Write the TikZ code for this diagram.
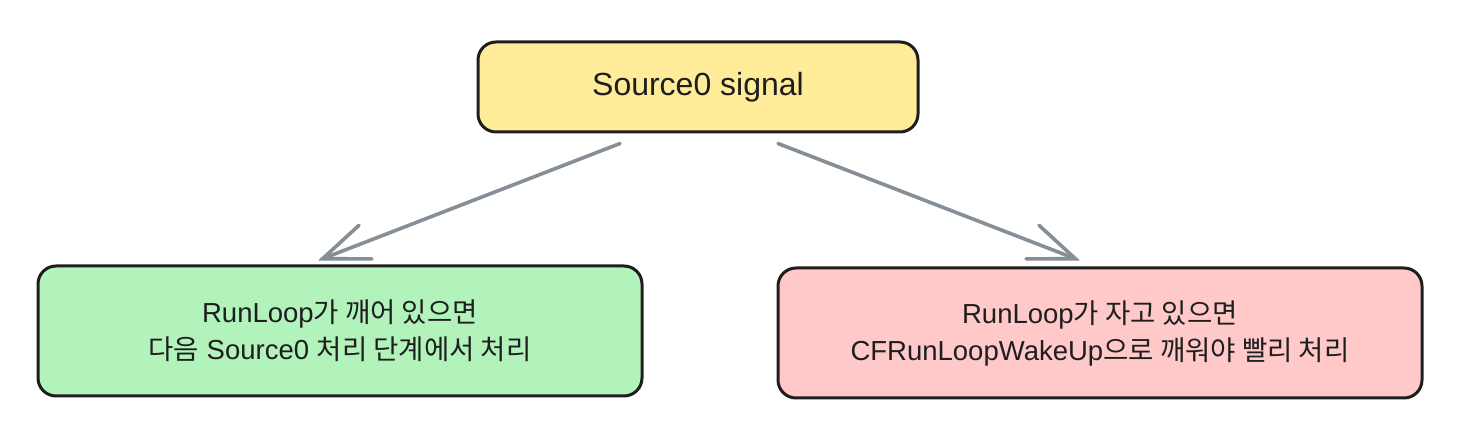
\documentclass[tikz,border=0pt]{standalone}
\usepackage{fontspec}
\setmainfont{Liberation Sans}
\newfontfamily\kofont{Noto Sans CJK KR}
\newcommand{\ko}[1]{{\kofont #1}}
\usepackage{tikz}
\usetikzlibrary{arrows.meta, positioning}

\begin{document}
\begin{tikzpicture}[x=1pt, y=1pt]
  \definecolor{ink}{HTML}{1E1E1E}
  \definecolor{sig}{HTML}{FFEC99}
  \definecolor{awake}{HTML}{B2F2BB}
  \definecolor{asleep}{HTML}{FFC9C9}
  \definecolor{wire}{HTML}{868E96}
  \tikzset{
    box/.style={draw=ink, line width=3pt, rounded corners=18pt, align=center,
      inner sep=0pt, text=ink},
    arr/.style={draw=wire, line width=3.6pt, line cap=round,
      -{Straight Barb[length=46pt, width=36pt, line cap=round]}}
  }
  \useasboundingbox (0,0) rectangle (1460,436);
  % --- sinal ---
  \node[box, fill=sig, minimum width=440pt, minimum height=90pt,
    font=\fontsize{32}{36}\selectfont] (src) at (698,349) {Source0 signal};
  % --- dois casos ---
  \node[box, fill=awake, minimum width=604pt, minimum height=130pt,
    font=\fontsize{27.5}{37}\selectfont] (wake) at (340,105)
    {RunLoop\ko{가 깨어 있으면}\\\ko{다음} Source0 \ko{처리 단계에서 처리}};
  \node[box, fill=asleep, minimum width=644pt, minimum height=130pt,
    font=\fontsize{27.5}{37}\selectfont] (sleep) at (1100,103)
    {RunLoop\ko{가 자고 있으면}\\CFRunLoopWakeUp\ko{으로 깨워야 빨리 처리}};
  % --- setas ---
  \draw[arr] ([xshift=-78pt, yshift=-10pt]src.south) -- ([xshift=-22pt, yshift=4pt]wake.north);
  \draw[arr] ([xshift=80pt, yshift=-10pt]src.south) -- ([xshift=-20pt, yshift=6pt]sleep.north);
\end{tikzpicture}
\end{document}
